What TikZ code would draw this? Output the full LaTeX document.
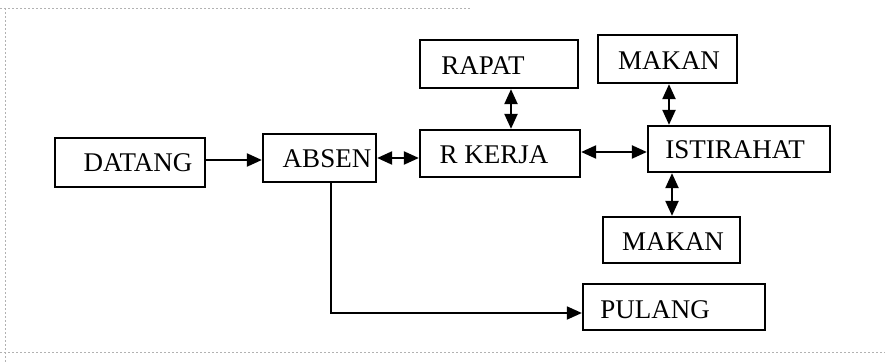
\documentclass[tikz,border=0pt]{standalone}
\usepackage{fontspec}
\setmainfont{Liberation Serif}
\usetikzlibrary{arrows.meta}
\begin{document}
\begin{tikzpicture}[x=1pt,y=-1pt,
  box/.style={draw,line width=2.3pt,rectangle,inner sep=0pt},
  lbl/.style={inner sep=0pt,font=\fontsize{27}{32}\selectfont},
  con/.style={line width=2.2pt},
  head/.style={},
  one/.style={con,-{Triangle[length=15pt,width=13pt]}},
  two/.style={con,{Triangle[length=15pt,width=13pt]}-{Triangle[length=15pt,width=13pt]}},
  frame/.style={gray!60,line width=0.5pt,dash pattern=on 2pt off 2pt}]
\useasboundingbox (0,0) rectangle (885,363);
\draw[frame] (0,8) -- (470,8);
\draw[frame] (5,8) -- (5,363);
\draw[frame] (0,352) -- (885,352);
% boxes
\node[box,minimum width=150pt,minimum height=49pt] (datang) at (130,162.5) {};
\node[lbl] at (138,163) {DATANG};
\node[box,minimum width=113pt,minimum height=48pt] (absen) at (319.5,158) {};
\node[lbl] at (327,159) {ABSEN};
\node[box,minimum width=160pt,minimum height=47pt] (rkerja) at (500,153.5) {};
\node[lbl] at (494,155) {R KERJA};
\node[box,minimum width=158pt,minimum height=48pt] (rapat) at (499,64) {};
\node[lbl] at (483,66) {RAPAT};
\node[box,minimum width=139pt,minimum height=48pt] (makan1) at (667.5,59) {};
\node[lbl] at (669,61) {MAKAN};
\node[box,minimum width=182pt,minimum height=46pt] (istirahat) at (739,149) {};
\node[lbl] at (735,150) {ISTIRAHAT};
\node[box,minimum width=137pt,minimum height=46pt] (makan2) at (671.5,240) {};
\node[lbl] at (673,242) {MAKAN};
\node[box,minimum width=182pt,minimum height=46pt] (pulang) at (674,307) {};
\node[lbl] at (655,310) {PULANG};
% connectors
\draw[one] (datang.east |- 0,160) -- (absen.west |- 0,160);
\draw[two] (absen.east |- 0,158) -- (rkerja.west |- 0,158);
\draw[two] (rapat.south -| 511,0) -- (rkerja.north -| 511,0);
\draw[two] (rkerja.east |- 0,152) -- (istirahat.west |- 0,152);
\draw[two] (makan1.south -| 669,0) -- (istirahat.north -| 669,0);
\draw[two] (istirahat.south -| 672,0) -- (makan2.north -| 672,0);
\draw[one,line width=1.8pt] (absen.south -| 331,0) |- (pulang.west |- 0,313);
\end{tikzpicture}
\end{document}
